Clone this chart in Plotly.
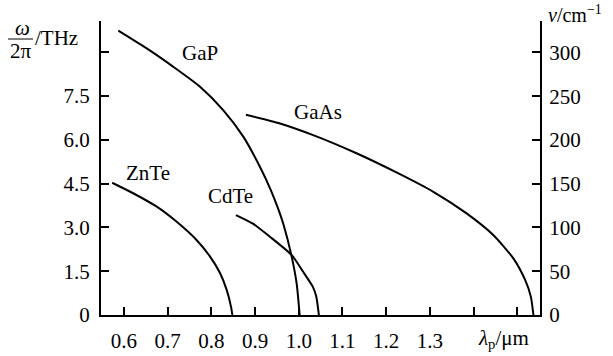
import plotly.graph_objects as go

# Data (frequency in THz vs pump wavelength in um)
gap_x = [0.587, 0.652, 0.713, 0.774, 0.827, 0.873, 0.911, 0.936, 0.951, 0.965, 0.983, 0.995, 1.002]
gap_y = [9.74, 9.13, 8.50, 7.82, 7.02, 6.11, 5.08, 4.28, 3.71, 3.10, 2.05, 1.09, 0.0]

gaas_x = [0.879, 0.957, 1.033, 1.132, 1.228, 1.308, 1.384, 1.445, 1.491, 1.518, 1.531, 1.537]
gaas_y = [6.86, 6.56, 6.16, 5.54, 4.85, 4.22, 3.48, 2.74, 1.94, 1.20, 0.63, 0.0]

znte_x = [0.573, 0.621, 0.675, 0.720, 0.766, 0.797, 0.820, 0.835, 0.845, 0.848]
znte_y = [4.53, 4.17, 3.71, 3.20, 2.57, 2.00, 1.43, 0.86, 0.28, 0.0]

cdte_x = [0.856, 0.896, 0.934, 0.984, 1.010, 1.032, 1.040, 1.046]
cdte_y = [3.42, 3.12, 2.68, 2.05, 1.48, 0.97, 0.63, 0.0]

curve_names = ["GaP", "GaAs", "ZnTe", "CdTe"]
label_x = [0.774, 1.043, 0.656, 0.844]
label_y = [8.97, 6.96, 4.88, 4.09]

x_ticks = [0.6, 0.7, 0.8, 0.9, 1.0, 1.1, 1.2, 1.3, 1.4, 1.5]
x_ticktext = ["0.6", "0.7", "0.8", "0.9", "1.0", "1.1", "1.2", "1.3", " ", " "]
y_ticks = [0, 1.5, 3.0, 4.5, 6.0, 7.5, 9.0]
y_ticktext = ["0", "1.5", "3.0", "4.5", "6.0", "7.5", " "]
y2_ticks = [0, 50, 100, 150, 200, 250, 300]

FONT = "Liberation Serif"
W, H = 613, 356
ML, MR, MT, MB = 101, 73, 21, 41
PW, PH = W - ML - MR, H - MT - MB


def px(x):
    return (x - ML) / PW


def py(y):
    return (H - MB - y) / PH


fig = go.Figure()
for xs, ys in [(gap_x, gap_y), (gaas_x, gaas_y), (znte_x, znte_y), (cdte_x, cdte_y)]:
    fig.add_trace(go.Scatter(x=xs, y=ys, mode="lines",
                             line=dict(color="black", width=2, shape="spline", smoothing=0.6),
                             showlegend=False, hoverinfo="skip"))
# invisible trace to activate right axis
fig.add_trace(go.Scatter(x=[None], y=[None], yaxis="y2", showlegend=False))

for name, lx, ly in zip(curve_names, label_x, label_y):
    fig.add_annotation(x=lx, y=ly, xref="x", yref="y", text=name, showarrow=False,
                       xanchor="center", yanchor="middle",
                       font=dict(family=FONT, size=21, color="black"))

tf = dict(family=FONT, size=21, color="black")
# Left axis title: omega / 2pi / THz
fig.add_annotation(x=px(22), y=py(28), xref="paper", yref="paper", text="<i>ω</i>",
                   showarrow=False, xanchor="center", yanchor="middle", font=tf)
fig.add_annotation(x=px(21), y=py(51), xref="paper", yref="paper", text="2π",
                   showarrow=False, xanchor="center", yanchor="middle", font=tf)
fig.add_shape(type="line", xref="paper", yref="paper", x0=px(8), x1=px(33),
              y0=py(39), y1=py(39), line=dict(color="black", width=1))
fig.add_annotation(x=px(33), y=py(38), xref="paper", yref="paper", text="/THz",
                   showarrow=False, xanchor="left", yanchor="middle", font=tf)
# Right axis title
fig.add_annotation(x=px(546), y=py(14), xref="paper", yref="paper",
                   text="<i>v</i>/cm<sup>−1</sup>", showarrow=False, xanchor="left",
                   yanchor="middle", font=dict(family=FONT, size=20, color="black"))
# Bottom axis title
fig.add_annotation(x=px(503), y=py(339), xref="paper", yref="paper",
                   text="<i>λ</i><sub>p</sub>/μm", showarrow=False,
                   xanchor="center", yanchor="middle", font=tf)

axis_common = dict(showgrid=False, zeroline=False, showline=True, linecolor="black",
                   linewidth=2, ticks="inside", tickcolor="black", tickwidth=1.5,
                   ticklen=8, automargin=False,
                   tickfont=dict(family=FONT, size=21, color="black"))

fig.update_layout(
    width=W, height=H, margin=dict(l=ML, r=MR, t=MT, b=MB, autoexpand=False),
    paper_bgcolor="white", plot_bgcolor="white",
    xaxis=dict(range=[0.5474, 1.552], tickvals=x_ticks, ticktext=x_ticktext,
               ticklabelstandoff=6, **axis_common),
    yaxis=dict(range=[0, 10.07], tickvals=y_ticks, ticktext=y_ticktext,
               ticklabelstandoff=5, **axis_common),
    yaxis2=dict(range=[0, 10.07 * 33.36], tickvals=y2_ticks, overlaying="y", side="right",
                ticklabelstandoff=3, **axis_common),
)

fig.write_html("out.html")
